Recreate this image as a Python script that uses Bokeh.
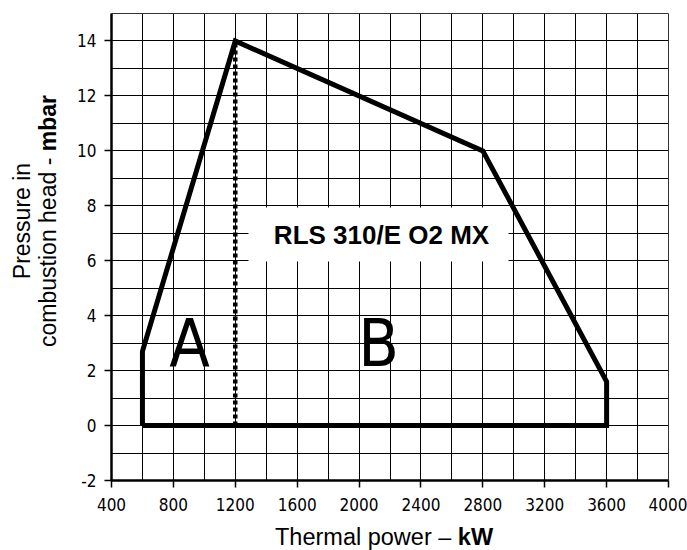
from bokeh.plotting import figure
from bokeh.models import FixedTicker, Range1d, Div
from bokeh.layouts import row, column
from bokeh.core.properties import value
from bokeh.embed import file_html
from bokeh.resources import INLINE

# ---- data ----
power_ticks = [400, 800, 1200, 1600, 2000, 2400, 2800, 3200, 3600, 4000]
pressure_ticks = [-2, 0, 2, 4, 6, 8, 10, 12, 14]
pressure_tick_labels = ["-2", "0", "2", "4", "6", "8", "10", "12", "14"]
grid_power = [400, 600, 800, 1000, 1200, 1400, 1600, 1800, 2000, 2200, 2400,
              2600, 2800, 3000, 3200, 3400, 3600, 3800, 4000]
grid_pressure = [-2, -1, 0, 1, 2, 3, 4, 5, 6, 7, 8, 9, 10, 11, 12, 13, 14, 15]

outline_power = [600, 600, 1200, 2800, 3600, 3600, 600]
outline_pressure = [0, 2.7, 14, 10, 1.6, 0, 0]

divider_power = [1200, 1200]
divider_pressure = [0, 14]

zone_names = ["A", "B"]
zone_power = [904, 2126]
zone_pressure = [3.0, 3.0]

model_name = "RLS 310/E O2 MX"
x_title = "Thermal power –"
x_unit = "kW"
y_title_1 = "Pressure in"
y_title_2 = "combustion head -"
y_unit = "mbar"

# ---- layout (page pixels) ----
W, H = 687, 550
YDIV_W = 62          # strip left of the figure holding the y title
XDIV_H = 30          # strip below the figure holding the x title
FIG_W, FIG_H = W - YDIV_W, H - XDIV_H
L, R, T, B = 111, 19, 13, 70          # frame edges in page pixels
X0, X1, Y0, Y1 = 400, 4000, -2, 15
fw, fh = W - L - R, H - T - B

NARROW = "'DejaVu Sans Condensed', 'Liberation Sans'"


def dx(px):
    return X0 + (px - L) * (X1 - X0) / fw


def dy(py):
    return Y1 - (py - T) * (Y1 - Y0) / fh


p = figure(width=FIG_W, height=FIG_H, x_range=Range1d(X0, X1), y_range=Range1d(Y0, Y1),
           output_backend="svg", toolbar_location=None,
           min_border_left=L - YDIV_W, min_border_right=R, min_border_top=T,
           min_border_bottom=FIG_H - (H - B))
p.background_fill_color = "white"
p.border_fill_color = "white"
p.outline_line_color = "#333333"
p.outline_line_width = 1

p.xgrid.ticker = FixedTicker(ticks=grid_power)
p.ygrid.ticker = FixedTicker(ticks=grid_pressure)
for g in (p.xgrid, p.ygrid):
    g.grid_line_color = "black"
    g.grid_line_alpha = 1
    g.grid_line_width = 1

p.xaxis.ticker = FixedTicker(ticks=power_ticks)
p.yaxis.ticker = FixedTicker(ticks=pressure_ticks)
p.yaxis.major_label_overrides = dict(zip(pressure_ticks, pressure_tick_labels))
for ax in (p.xaxis, p.yaxis):
    ax.axis_line_width = 2.5
    ax.axis_line_color = "black"
    ax.major_tick_out = 7
    ax.major_tick_in = 0
    ax.major_tick_line_width = 1.5
    ax.major_tick_line_color = "black"
    ax.minor_tick_line_color = None
    ax.major_label_text_font = NARROW
    ax.major_label_text_font_size = "17px"
    ax.major_label_text_color = "black"
p.xaxis.major_label_standoff = 10
p.yaxis.major_label_standoff = 8

# white box behind the model name
p.quad(left=[dx(248)], right=[dx(508)], bottom=[dy(261)], top=[dy(207)],
       fill_color="white", line_color=None)

p.line(divider_power, divider_pressure, line_color="black", line_width=4.5,
       line_dash="4 3")
p.line(outline_power, outline_pressure, line_color="black", line_width=5,
       line_join="miter")

p.text(x=[dx(381)], y=[dy(234)], text=[model_name], text_font=value("Liberation Sans"),
       text_font_style="bold", text_font_size="26px", text_align="center",
       text_baseline="middle", text_color="black")

p.text(x=zone_power, y=zone_pressure, text=zone_names,
       text_font=value(NARROW), text_font_size="66px",
       text_align="center", text_baseline="middle", text_color="black")

# ---- axis titles with mixed weights, as HTML text ----
blk_w, line_h = 280, 26
cx, cy = 35, 221       # centre of the two-line y title (page px)
y_html = (
    f'<div style="position:relative; left:{cx - blk_w // 2}px; top:{cy - line_h}px; '
    f'width:{blk_w}px; height:{2 * line_h}px; transform:rotate(-90deg); '
    f'transform-origin:50% 50%; text-align:center; white-space:nowrap; color:black; '
    f'font-family:\'Liberation Sans\', Arial, sans-serif; font-size:23px; line-height:{line_h}px;">'
    f'{y_title_1}<br>{y_title_2} <b>{y_unit}</b></div>'
)
ydiv = Div(text=y_html, width=YDIV_W, height=FIG_H, margin=0,
           styles={"overflow": "visible", "margin": "0", "padding": "0"})

x_html = (
    f'<div style="position:relative; left:275px; top:4px; white-space:nowrap; color:black; '
    f'font-family:\'Liberation Sans\', Arial, sans-serif; font-size:23.5px; line-height:26px;">'
    f'{x_title} <b>{x_unit}</b></div>'
)
xdiv = Div(text=x_html, width=W, height=XDIV_H, margin=0,
           styles={"overflow": "visible", "margin": "0", "padding": "0"})

layout = column(row(ydiv, p, spacing=0, margin=0), xdiv, spacing=0, margin=0)

open("out.html", "w").write(file_html(layout, INLINE))
